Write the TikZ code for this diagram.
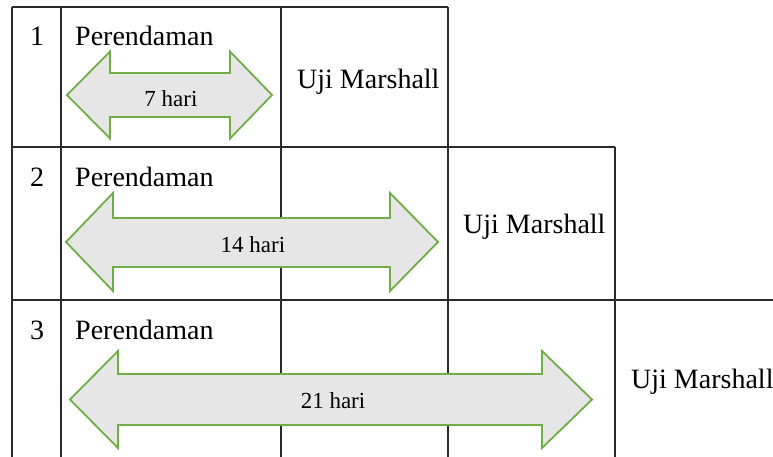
\documentclass[tikz,border=0pt]{standalone}
\usepackage{fontspec}
\setmainfont{Liberation Serif}
\definecolor{arrgreen}{HTML}{70AD47}
\definecolor{arrfill}{HTML}{E6E6E6}
\definecolor{gridc}{HTML}{2B2B2B}
\tikzset{
  grid line/.style={draw=gridc, line width=1.3pt},
  dblarrow/.style={draw=arrgreen, fill=arrfill, line width=1.8pt, line join=miter},
  bigtxt/.style={font=\fontsize{28}{32}\selectfont, inner sep=0pt, anchor=base west},
  numtxt/.style={font=\fontsize{28}{32}\selectfont, inner sep=0pt, anchor=base},
  daytxt/.style={font=\fontsize{23}{26}\selectfont, inner sep=0pt, anchor=base},
}
\begin{document}
\begin{tikzpicture}[x=1pt, y=-1pt]
\useasboundingbox (0,0) rectangle (773,457);
% table lines
\draw[grid line] (12,7) -- (448,7);
\draw[grid line] (12,147) -- (615,147);
\draw[grid line] (12,300) -- (773,300);
\draw[grid line] (448,7) -- (448,147);
\draw[grid line] (615,147) -- (615,300);
\draw[grid line] (12,7) -- (12,460);
\draw[grid line] (61,7) -- (61,460);
\draw[grid line] (281,7) -- (281,460);
\draw[grid line] (448,147) -- (448,460);
\draw[grid line] (615,300) -- (615,460);
% arrows
% row 1: tips 67..272, center 95, head half 43.5, shaft half 22, head len 43
\draw[dblarrow] (67,95) -- (110,51.5) -- (110,73) -- (230,73) -- (230,51.5) -- (272,95)
  -- (230,138.5) -- (230,117) -- (110,117) -- (110,138.5) -- cycle;
% row 2
\draw[dblarrow] (66,242) -- (113,193) -- (113,218) -- (390,218) -- (390,193) -- (438,242)
  -- (390,291) -- (390,267) -- (113,267) -- (113,291) -- cycle;
% row 3
\draw[dblarrow] (70,399.5) -- (118,351) -- (118,374) -- (542,374) -- (542,351) -- (592,399.5)
  -- (542,448) -- (542,425) -- (118,425) -- (118,448) -- cycle;
% texts
\node[numtxt] (n1) at (37,46) {1};
\node[bigtxt] (p1) at (75,46) {Perendaman};
\node[daytxt] (d1) at (171,107) {7 hari};
\node[bigtxt] (u1) at (297,89) {Uji Marshall};
\node[numtxt] (n2) at (37,186) {2};
\node[bigtxt] (p2) at (75,186) {Perendaman};
\node[daytxt] (d2) at (253,252) {14 hari};
\node[bigtxt] (u2) at (463,233) {Uji Marshall};
\node[numtxt] (n3) at (37,339) {3};
\node[bigtxt] (p3) at (75,339) {Perendaman};
\node[daytxt] (d3) at (333,408) {21 hari};
\node[bigtxt] (u3) at (631,388) {Uji Marshall};
\end{tikzpicture}
\end{document}
